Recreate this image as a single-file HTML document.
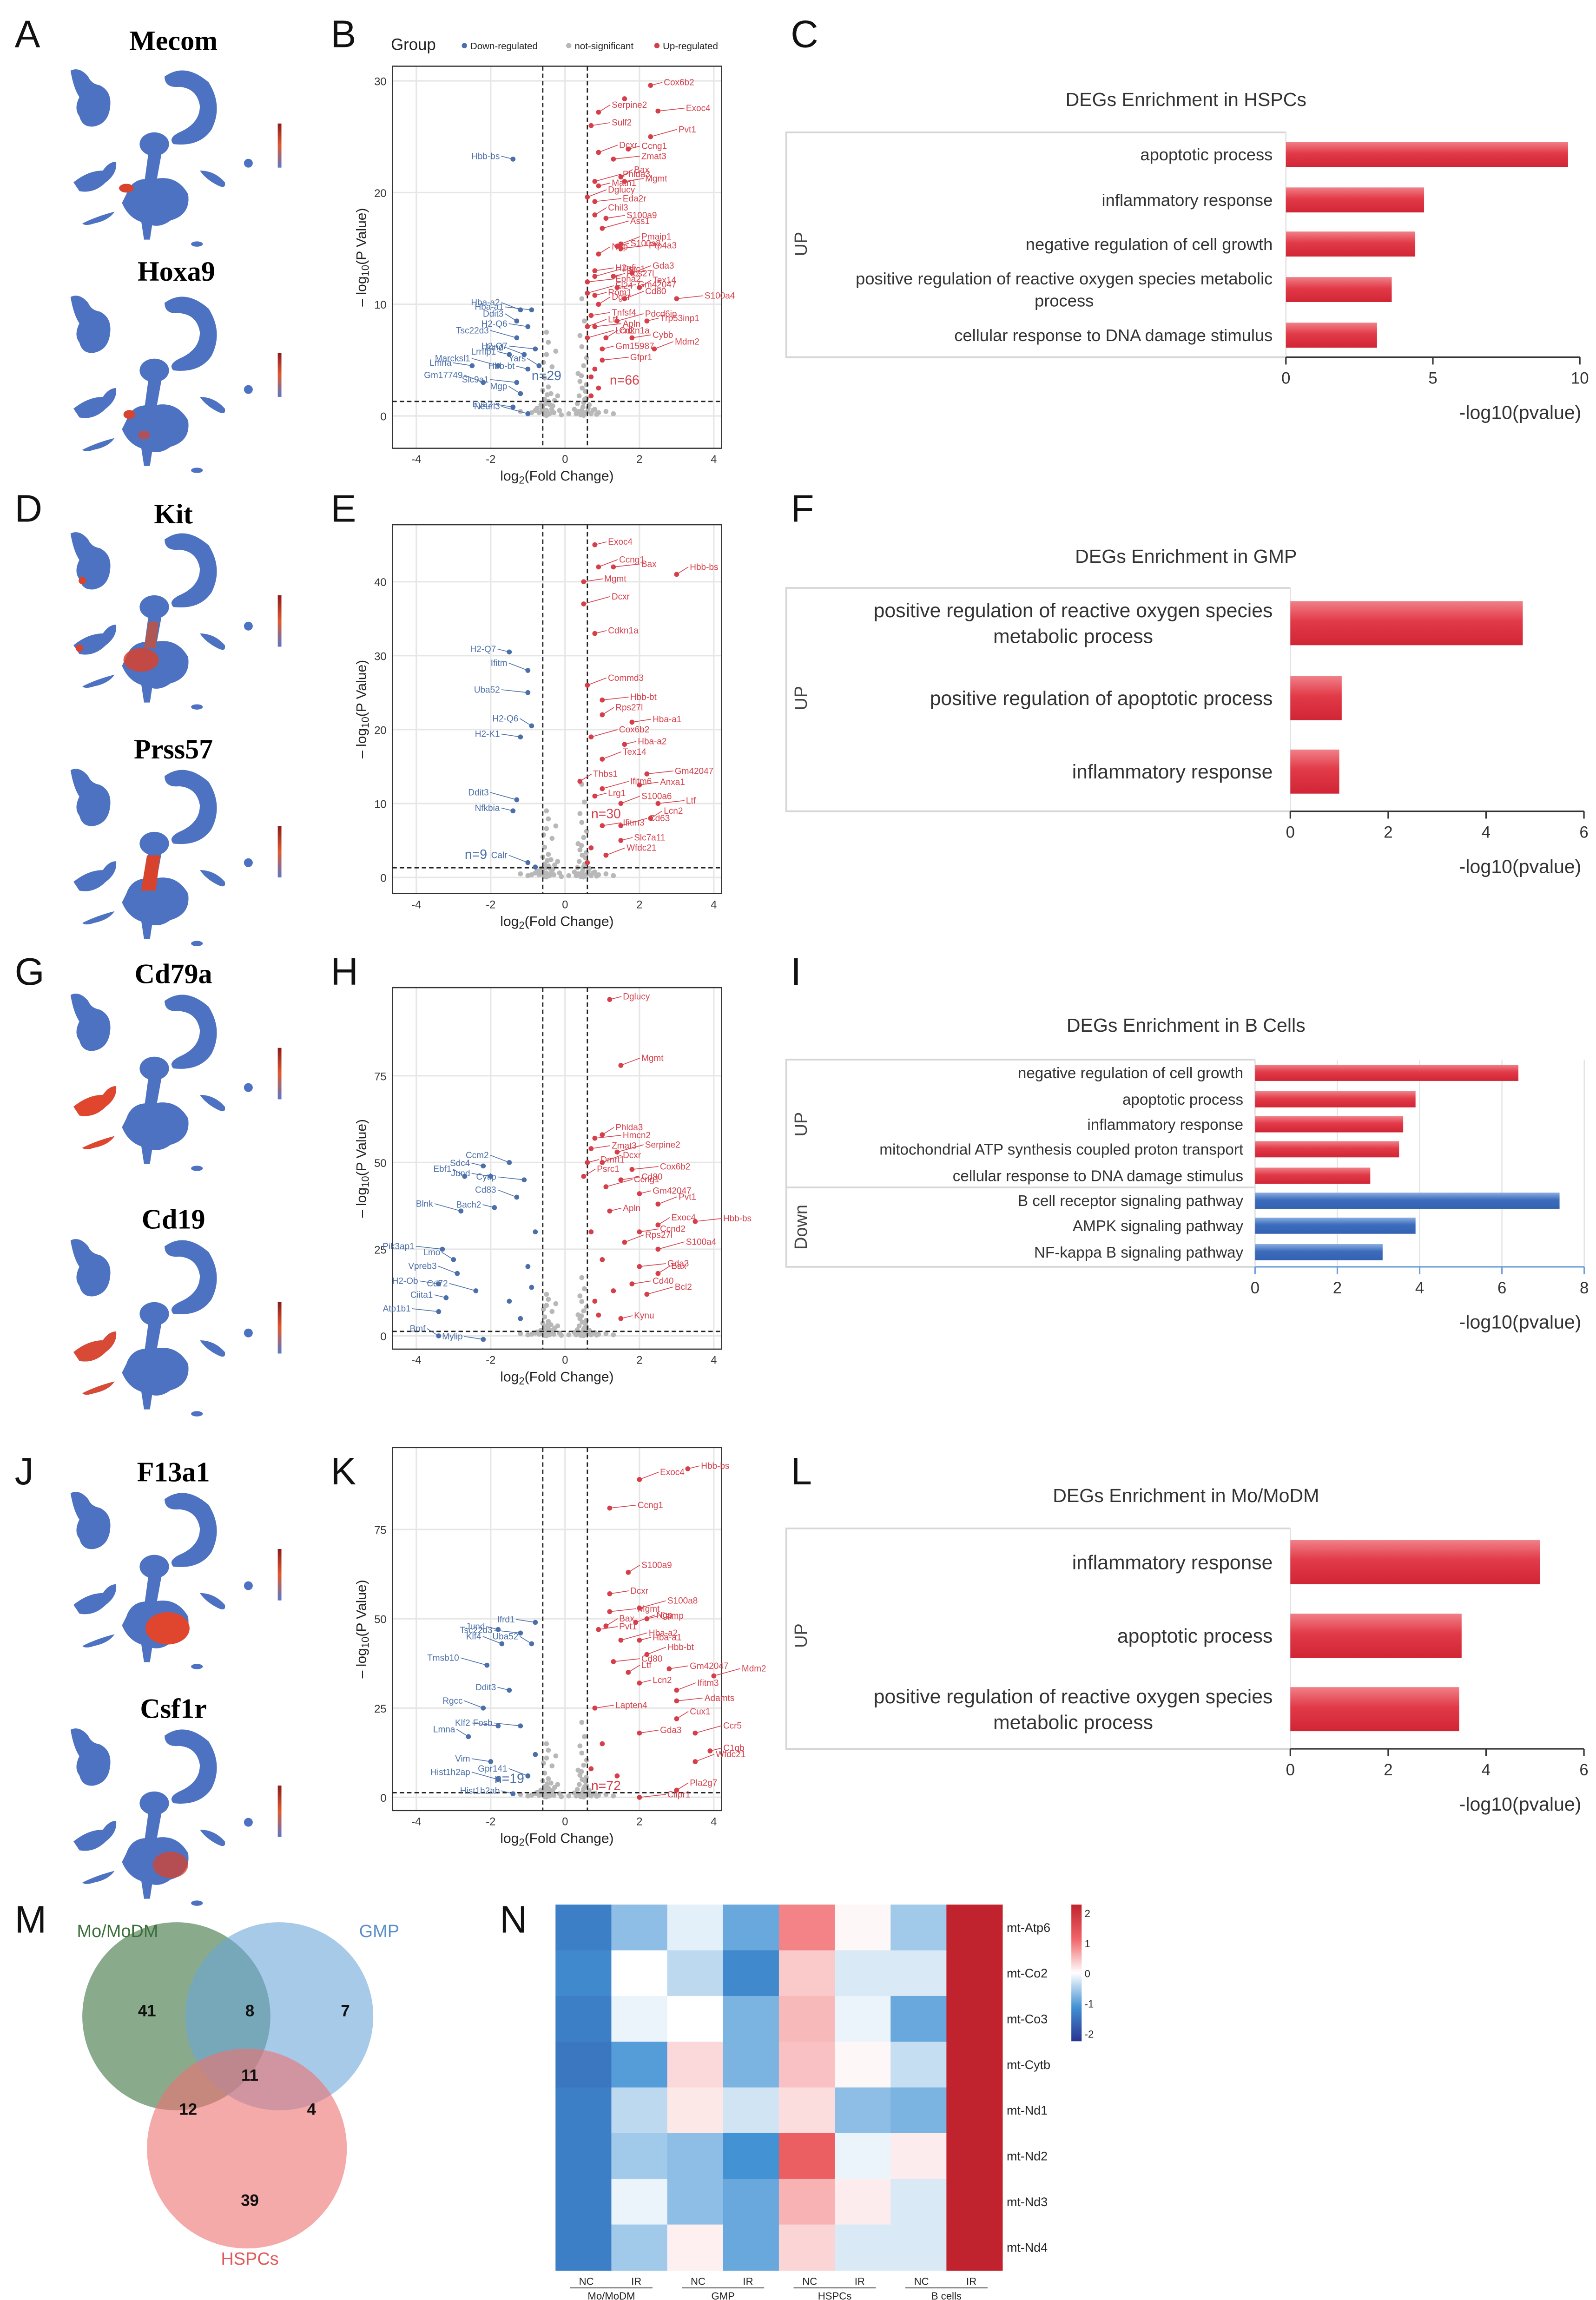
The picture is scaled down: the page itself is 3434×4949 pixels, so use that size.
<!DOCTYPE html>
<html><head><meta charset="utf-8">
<style>
html,body{margin:0;padding:0;background:#fff;}
svg{display:block;font-family:"Liberation Sans",sans-serif;}
.ser{font-family:"Liberation Serif",serif;font-weight:bold;}
</style></head>
<body>
<svg id="fig" xmlns="http://www.w3.org/2000/svg" width="3434" height="4949" viewBox="0 0 1086 1565">
<defs>
<linearGradient id="gRed" x1="0" y1="0" x2="0" y2="1"><stop offset="0" stop-color="#f08088"/><stop offset="0.45" stop-color="#e23a48"/><stop offset="1" stop-color="#d02535"/></linearGradient>
<linearGradient id="gBlue" x1="0" y1="0" x2="0" y2="1"><stop offset="0" stop-color="#8aaee0"/><stop offset="0.45" stop-color="#3c6cbc"/><stop offset="1" stop-color="#3462b2"/></linearGradient>
<linearGradient id="gCb" x1="0" y1="1" x2="0" y2="0"><stop offset="0" stop-color="#5a78c8"/><stop offset="0.5" stop-color="#e05a30"/><stop offset="1" stop-color="#8b1a1a"/></linearGradient>
<linearGradient id="gHm" x1="0" y1="1" x2="0" y2="0"><stop offset="0" stop-color="#2a3492"/><stop offset="0.25" stop-color="#4292d4"/><stop offset="0.5" stop-color="#ffffff"/><stop offset="0.75" stop-color="#f06468"/><stop offset="1" stop-color="#c0232d"/></linearGradient>
<g id="umap" fill="#4d72c2">
<path d="M2,2 Q8,-1 14,6 Q16,11 22,12 Q30,16 29,26 Q28,38 18,40 Q10,41 8,33 Q4,28 8,20 Q4,14 2,2Z"/>
<path d="M66,6 Q80,-4 96,10 Q106,26 98,42 Q90,54 72,52 Q68,48 76,44 Q90,38 90,26 Q88,14 76,13 Q66,14 66,6Z"/>
<ellipse cx="59" cy="52" rx="10" ry="8"/>
<path d="M55,58 L64,58 L60,80 L52,80Z"/>
<path d="M40,86 Q44,74 58,76 Q74,72 82,86 Q84,100 70,104 Q62,110 54,106 Q42,104 37,92Z"/>
<path d="M50,104 L58,104 L56,117 L52,117Z"/>
<path d="M4,78 Q14,70 24,70 Q28,64 33,64 Q34,72 26,78 Q18,86 8,84Z"/>
<circle cx="123" cy="65" r="3"/>
<path d="M90,70 Q100,70 107,78 Q108,83 102,80 Q94,76 90,70Z"/>
<path d="M10,106 Q20,101 32,98 Q28,104 18,106 Q12,108 10,106Z"/>
<ellipse cx="88" cy="120" rx="4" ry="1.8"/>
</g>
</defs>
<rect width="1086" height="1565" fill="#fff"/>

<g font-size="26" fill="#111">
<text x="10" y="32">A</text>
<text x="225" y="32">B</text>
<text x="538" y="32">C</text>
<text x="10" y="355">D</text>
<text x="225" y="355">E</text>
<text x="538" y="355">F</text>
<text x="10" y="670">G</text>
<text x="225" y="670">H</text>
<text x="538" y="670">I</text>
<text x="10" y="1010">J</text>
<text x="225" y="1010">K</text>
<text x="538" y="1010">L</text>
<text x="10" y="1315">M</text>
<text x="340" y="1315">N</text>
</g>

<g class="ser" font-size="19" text-anchor="middle" fill="#000">
<text x="118" y="34">Mecom</text>
<text x="120" y="191">Hoxa9</text>
<text x="118" y="356">Kit</text>
<text x="118" y="516">Prss57</text>
<text x="118" y="669">Cd79a</text>
<text x="118" y="836">Cd19</text>
<text x="118" y="1008">F13a1</text>
<text x="118" y="1169">Csf1r</text>
</g>

<g transform="translate(46,46)"><use href="#umap"/><ellipse cx="40" cy="82" rx="5" ry="3" fill="#d8432e"/><rect x="143" y="38" width="2.5" height="30" fill="url(#gCb)"/></g>
<g transform="translate(46,200)"><use href="#umap"/><ellipse cx="42" cy="82" rx="4" ry="3" fill="#d8432e"/><ellipse cx="52" cy="96" rx="4" ry="3" fill="#d8432e" opacity="0.7"/><rect x="143" y="40" width="2.5" height="30" fill="url(#gCb)"/></g>
<g transform="translate(46,361)"><use href="#umap"/><path d="M55,62 L62,62 L60,80 L52,80Z" fill="#c8503a" opacity="0.8"/><ellipse cx="50" cy="88" rx="12" ry="8" fill="#d8432e" opacity="0.85"/><circle cx="10" cy="34" r="2.5" fill="#d8432e"/><circle cx="8" cy="80" r="2.5" fill="#d8432e"/><rect x="143" y="44" width="2.5" height="35" fill="url(#gCb)"/></g>
<g transform="translate(46,522)"><use href="#umap"/><path d="M54,60 L63,60 L60,84 L50,84Z" fill="#d8432e"/><rect x="143" y="40" width="2.5" height="35" fill="url(#gCb)"/></g>
<g transform="translate(46,675)"><use href="#umap"/><path d="M4,78 Q14,70 24,70 Q28,64 33,64 Q34,72 26,78 Q18,86 8,84Z" fill="#e0452e"/><path d="M10,106 Q20,101 32,98 Q28,104 18,106 Q12,108 10,106Z" fill="#e0452e"/><rect x="143" y="38" width="2.5" height="35" fill="url(#gCb)"/></g>
<g transform="translate(46,842)"><use href="#umap"/><path d="M4,78 Q14,70 24,70 Q28,64 33,64 Q34,72 26,78 Q18,86 8,84Z" fill="#d84a36"/><path d="M10,106 Q20,101 32,98 Q28,104 18,106 Q12,108 10,106Z" fill="#d84a36"/><rect x="143" y="44" width="2.5" height="35" fill="url(#gCb)"/></g>
<g transform="translate(46,1014)"><use href="#umap"/><ellipse cx="68" cy="94" rx="15" ry="11" fill="#e0452e"/><rect x="143" y="40" width="2.5" height="35" fill="url(#gCb)"/></g>
<g transform="translate(46,1175)"><use href="#umap"/><ellipse cx="70" cy="94" rx="12" ry="9" fill="#d8432e" opacity="0.75"/><rect x="143" y="40" width="2.5" height="35" fill="url(#gCb)"/></g>

<g>
<circle cx="120" cy="1372" r="64" fill="#4a7e4e" opacity="0.65"/>
<circle cx="190" cy="1372" r="64" fill="#6aa6d8" opacity="0.6"/>
<circle cx="168" cy="1462" r="68" fill="#ef7272" opacity="0.6"/>
<g font-size="11" font-weight="bold" text-anchor="middle" fill="#111">
<text x="100" y="1372">41</text>
<text x="170" y="1372">8</text>
<text x="235" y="1372">7</text>
<text x="170" y="1416">11</text>
<text x="128" y="1439">12</text>
<text x="212" y="1439">4</text>
<text x="170" y="1501">39</text>
</g>
<text x="80" y="1318" font-size="12" fill="#3c6e3c" text-anchor="middle">Mo/MoDM</text>
<text x="258" y="1318" font-size="12" fill="#5a8ec8" text-anchor="middle">GMP</text>
<text x="170" y="1541" font-size="12" fill="#e05a5a" text-anchor="middle">HSPCs</text>
</g>
<g id="dyn"></g>
</svg>
<script>
const nsPts = [[-0.5,0.5],[-0.4,1],[-0.3,0.3],[-0.2,1.8],[-0.45,2.6],[-0.55,3.4],[-0.35,4.4],[-0.5,5.5],[0.45,0.5],[0.5,1.2],[0.55,2.2],[0.4,3.1],[0.5,4.5],[0.45,6.2],[0.52,8.5],[0.3,0.2],[-0.1,0.1],[0.1,0.2],[0.6,0.4],[0.7,0.2],[0.8,0.6],[0.9,0.3],[1.1,0.4],[1.3,0.2],[-0.6,0.8],[-0.7,0.3],[-0.8,0.5],[-1,0.2],[-1.2,0.4],[-0.65,1],[0.65,1],[0.35,3.8],[-0.25,5.8],[-0.5,7.5],[0.45,10.5],[-0.55,1.5],[0.58,1.6],[-0.42,0.2],[0.25,0.6],[-0.15,0.5],
[-0.58,0.3],[-0.52,1.1],[-0.48,1.9],[-0.6,2.3],[-0.38,2.0],[-0.33,0.9],[-0.28,1.4],[-0.55,0.1],[-0.62,0.6],[-0.45,1.3],[0.42,0.1],[0.48,0.8],[0.53,1.5],[0.57,2.8],[0.38,1.8],[0.33,1.1],[0.46,2.5],[0.55,0.3],[0.62,0.7],[0.44,3.6],[0.5,0.05],[0.36,0.4],[-0.36,0.6],[-0.5,0.05],[0.75,0.5],[-0.75,0.7],[0.85,0.15],[-0.9,0.3],[0.58,5.2],[-0.58,4.8],[0.4,7.2],[-0.45,6.6]];

const upB = [[2.3,29.6,'Cox6b2'],[1.6,28.4,''],[2.5,27.3,'Exoc4'],[0.9,27.2,'Serpine2'],[0.7,26,'Sulf2'],[2.3,25,'Pvt1'],[1.7,23.9,'Ccng1'],[0.9,23.6,'Dcxr'],[1.3,23,'Zmat3'],[1.5,21.4,'Bax'],[1.6,21,'Mgmt'],[0.8,21,'Phlda3'],[0.9,20.6,'Matn1'],[0.6,19.6,'Dglucy'],[0.8,19.2,'Eda2r'],[0.8,18,'Chil3'],[1.1,17.7,'S100a9'],[1.0,16.8,'Ass1'],[1.4,15.2,'S100a8'],[1.5,15.4,'Pmaip1'],[1.5,15,'Ptp4a3'],[0.9,14.5,'Ngp'],[0.8,13,'H2afj'],[0.8,12.5,'Psrc1'],[1.3,12.5,'Rps27l'],[1.8,12.8,'Gda3'],[0.6,12,'Epha2'],[2.0,11.5,'Tex14'],[1.4,11.5,'Gm42047'],[0.6,11,'Ei24'],[0.8,10.8,'Rom1'],[1.6,10.5,'Cd80'],[3.0,10.5,'S100a4'],[0.9,10,'Dgkr'],[0.7,9,'Tnfsf4'],[1.4,8.5,'Pdcd6ip'],[2.2,8.5,'Trp53inp1'],[0.6,8,'Ltf'],[0.8,8,'Apln'],[1.1,7,'Cdkn1a'],[1.8,7,'Cybb'],[0.6,7,'Lcn2'],[1.0,6,'Gm15987'],[2.4,6,'Mdm2'],[1.0,5,'Gfpr1'],[0.7,3.5,''],[0.9,2.5,''],[0.7,1.8,''],[0.8,4.2,'']];
const downB = [[-1.4,23,'Hbb-bs'],[-1.2,9.5,'Hba-a2'],[-0.9,9.5,'Hba-a1'],[-1.3,8.5,'Ddit3'],[-1.0,8,'H2-Q6'],[-1.3,7,'Tsc22d3'],[-1.5,5.5,'Lrrfip1'],[-1.1,5.5,'Jund'],[-0.8,6,'H2-Q7'],[-0.7,4.5,'Yars'],[-2.5,4.5,'Lmna'],[-1.8,4.5,'Marcksl1'],[-1.0,4.2,'Hbb-bt'],[-2.2,3,'Gm17749'],[-1.3,3,'Slc9a1'],[-1.2,2,'Mgp'],[-1.4,0.8,'Eya2'],[-1.0,0.2,'Neurl3']];
const upE = [[0.8,45,'Exoc4'],[0.9,42,'Ccng1'],[1.3,42,'Bax'],[3.0,41,'Hbb-bs'],[0.5,40,'Mgmt'],[0.5,37,'Dcxr'],[0.8,33,'Cdkn1a'],[0.6,26,'Commd3'],[1.0,24,'Hbb-bt'],[1.0,22,'Rps27l'],[1.8,21,'Hba-a1'],[0.7,19,'Cox6b2'],[1.6,18,'Hba-a2'],[1.0,16,'Tex14'],[2.2,14,'Gm42047'],[0.4,13,'Thbs1'],[2.0,12.5,'Anxa1'],[1.0,12,'Ifitm6'],[0.8,11,'Lrg1'],[1.5,10,'S100a6'],[2.5,10,'Ltf'],[2.3,8,'Lcn2'],[1.0,7,'Ifitm3'],[1.5,7,'Cd63'],[1.5,5,'Slc7a11'],[1.1,3,'Wfdc21'],[0.7,4,''],[0.6,2,'']];
const downE = [[-1.5,30.5,'H2-Q7'],[-1.0,28,'Ifitm'],[-1.0,25,'Uba52'],[-0.9,20.5,'H2-Q6'],[-1.2,19,'H2-K1'],[-1.3,10.5,'Ddit3'],[-1.4,9,'Nfkbia'],[-1.0,2,'Calr'],[-0.8,1.4,'']];
const upH = [[1.2,97,'Dglucy'],[1.5,78,'Mgmt'],[0.8,57,'Hmcn2'],[1.0,58,'Phlda3'],[0.7,54,'Zmat3'],[1.4,53,'Serpine2'],[0.6,50,'Dmrt1'],[1.0,50,'Dcxr'],[1.8,48,'Cox6b2'],[0.5,46,'Psrc1'],[1.5,45,'Cd80'],[1.1,43,'Ccng1'],[2.0,41,'Gm42047'],[2.5,38,'Pvt1'],[3.5,33,'Hbb-bs'],[2.5,32,'Exoc4'],[2.0,30,'Ccnd2'],[2.5,25,'S100a4'],[1.2,36,'Apln'],[1.6,27,'Rps27l'],[2.0,20,'Gda3'],[2.5,18,'Bax'],[1.8,15,'Cd40'],[2.2,12,'Bcl2'],[1.5,5,'Kynu'],[0.8,10,''],[1.0,22,''],[0.7,30,''],[0.9,6,''],[1.3,13,'']];
const downH = [[-2.2,49,'Sdc4'],[-1.5,50,'Ccm2'],[-1.1,45,'Cytip'],[-2.7,46,'Ebf1'],[-2.0,46,'Jund'],[-2.8,36,'Blnk'],[-1.9,37,'Bach2'],[-1.3,40,'Cd83'],[-3.3,25,'Pik3ap1'],[-3.0,22,'Lmo'],[-3.4,15,'H2-Ob'],[-2.4,13,'Cd72'],[-3.2,11,'Ciita1'],[-2.9,18,'Vpreb3'],[-3.4,7,'Atp1b1'],[-3.4,0,'Bmf'],[-2.2,-1,'Mylip'],[-1.5,10,''],[-1.0,20,''],[-0.8,30,''],[-1.2,5,''],[-0.9,14,'']];
const upK = [[3.3,92,'Hbb-bs'],[2.0,89,'Exoc4'],[1.2,81,'Ccng1'],[1.7,63,'S100a9'],[1.2,57,'Dcxr'],[2.0,53,'S100a8'],[2.2,50,'Camp'],[1.9,49,'Ngp'],[1.2,52,'Mgmt'],[1.1,48,'Bax'],[0.9,47,'Pvt1'],[1.5,44,'Hba-a2'],[2.0,44,'Hba-a1'],[2.2,40,'Hbb-bt'],[1.3,38,'Cd80'],[1.7,35,'Ltf'],[2.8,36,'Gm42047'],[4.0,34,'Mdm2'],[2.0,32,'Lcn2'],[3.0,30,'Ifitm3'],[3.0,27,'Adamts'],[3.0,22,'Cux1'],[2.0,18,'Gda3'],[3.5,18,'Ccr5'],[3.9,13,'C1qb'],[3.5,10,'Wfdc21'],[2.0,0,'Clipr1'],[3.0,2,'Pla2g7'],[0.8,25,'Lapten4'],[1.0,15,''],[0.7,8,''],[1.4,6,'']];
const downK = [[-1.8,47,'Jund'],[-1.7,43,'Klf4'],[-1.2,46,'Tsc22d3'],[-0.9,43,'Uba52'],[-0.8,49,'Ifrd1'],[-2.1,37,'Tmsb10'],[-1.5,30,'Ddit3'],[-2.2,25,'Rgcc'],[-1.8,20,'Klf2'],[-2.6,17,'Lmna'],[-2.0,10,'Vim'],[-1.8,5,'Hist1h2ap'],[-1.4,1,'Hist1h2ab'],[-1.0,6,'Gpr141'],[-1.2,20,'Fosb'],[-0.8,12,'']];

const termsC = ['apoptotic process','inflammatory response','negative regulation of cell growth','positive regulation of reactive oxygen species metabolic\nprocess','cellular response to DNA damage stimulus'];
const valsC = [9.6,4.7,4.4,3.6,3.1];
const termsF = ['positive regulation of reactive oxygen species\nmetabolic process','positive regulation of apoptotic process','inflammatory response'];
const valsF = [4.75,1.05,1.0];
const termsI = ['negative regulation of cell growth','apoptotic process','inflammatory response','mitochondrial ATP synthesis coupled proton transport','cellular response to DNA damage stimulus','B cell receptor signaling pathway','AMPK signaling pathway','NF-kappa B signaling pathway'];
const valsI = [6.4,3.9,3.6,3.5,2.8,7.4,3.9,3.1];
const dirI = ['UP','UP','UP','UP','UP','Down','Down','Down'];
const termsL = ['inflammatory response','apoptotic process','positive regulation of reactive oxygen species\nmetabolic process'];
const valsL = [5.1,3.5,3.45];

const hmGenes = ['mt-Atp6','mt-Co2','mt-Co3','mt-Cytb','mt-Nd1','mt-Nd2','mt-Nd3','mt-Nd4'];
const hmGroups = ['Mo/MoDM','GMP','HSPCs','B cells'];
const hmConds = ['NC','IR'];
const hmVals = [
 [-1.2,-0.6,-0.15,-0.8,0.8,0.05,-0.5,2.1],
 [-1.1,0.0,-0.35,-1.1,0.35,-0.2,-0.2,2.1],
 [-1.2,-0.1,0.0,-0.7,0.45,-0.1,-0.8,2.1],
 [-1.3,-0.9,0.25,-0.7,0.4,0.05,-0.3,2.1],
 [-1.2,-0.35,0.15,-0.25,0.22,-0.6,-0.7,2.1],
 [-1.2,-0.5,-0.6,-1.0,1.1,-0.1,0.12,2.3],
 [-1.2,-0.1,-0.6,-0.8,0.5,0.12,-0.2,2.1],
 [-1.2,-0.5,0.1,-0.8,0.28,-0.2,-0.2,2.1]];

const NS='http://www.w3.org/2000/svg';
const root=document.getElementById('dyn');
function mk(tag,attrs,parent){const e=document.createElementNS(NS,tag);for(const k in attrs)e.setAttribute(k,attrs[k]);(parent||root).appendChild(e);return e;}
const RED='#d63f4a', BLUE='#4b6fa8', GRAY='#b8b8b8';

function volcano(cfg){
  const g=mk('g',{});
  
  
  const xs=v=>384.5+v*25.3;
  const ys=v=>cfg.y0px-v*cfg.ppu;
  const L=267,R=491,T=cfg.top,B=cfg.bottom;
  for(const t of cfg.yticks){
    const gl=mk('line',{x1:L,x2:R,y1:ys(t),y2:ys(t),stroke:'#e6e6e6','stroke-width':1},g);
    
    
    const tl=mk('text',{x:L-4,y:ys(t)+3,'font-size':7.5,'text-anchor':'end',fill:'#333'},g);
    
    
    tl.textContent=t;
  }
  for(const t of [-4,-2,0,2,4]){
    const gl=mk('line',{x1:xs(t),x2:xs(t),y1:T,y2:B,stroke:'#e6e6e6','stroke-width':1},g);
    
    
    const tl=mk('text',{x:xs(t),y:B+10,'font-size':7.5,'text-anchor':'middle',fill:'#333'},g);
    
    
    tl.textContent=t;
  }
  const box=mk('rect',{x:L,y:T,width:R-L,height:B-T,fill:'none',stroke:'#333','stroke-width':0.8},g);
  
  
  for(const p of nsPts){
    const c=mk('circle',{cx:xs(p[0]),cy:ys(p[1]*cfg.nsScale),r:1.7,fill:GRAY},g);
    
    
  }
  for(const l of [-0.6,0.6]){
    const d=mk('line',{x1:xs(l),x2:xs(l),y1:T,y2:B,stroke:'#222','stroke-width':0.9,'stroke-dasharray':'3,2'},g);
    
    
  }
  const h=mk('line',{x1:L,x2:R,y1:ys(1.3),y2:ys(1.3),stroke:'#222','stroke-width':0.9,'stroke-dasharray':'3,2'},g);
  
  
  function pts(arr,col,side,nm){
    arr.forEach((p,i)=>{
      const x=xs(p[0]),y=ys(p[1]);
      if(p[2]){
        const lx=x+side*(8+(i%3)*5), ly=y-2-(i%2)*3;
        const ln=mk('line',{x1:x,y1:y,x2:lx,y2:ly,stroke:col,'stroke-width':0.5},g);
        
        
        const t=mk('text',{x:lx+side*1,y:ly+2,'font-size':6,'text-anchor':side>0?'start':'end',fill:col},g);
        
        
        t.textContent=p[2];
      }
      const c=mk('circle',{cx:x,cy:y,r:1.7,fill:col},g);
      
      
    });
  }
  pts(cfg.down,BLUE,-1,'point-down-regulated');
  pts(cfg.up,RED,1,'point-up-regulated');
  const nu=mk('text',{x:xs(cfg.nUpAt[0]),y:ys(cfg.nUpAt[1]),'font-size':9,fill:RED},g);
  
  
  nu.textContent=cfg.nUp;
  const nd=mk('text',{x:xs(cfg.nDownAt[0]),y:ys(cfg.nDownAt[1]),'font-size':9,fill:BLUE},g);
  
  
  nd.textContent=cfg.nDown;
  const xl=mk('text',{x:379,y:B+22,'font-size':9.5,'text-anchor':'middle',fill:'#222'},g);
  
  
  xl.innerHTML='log<tspan font-size="7" dy="2">2</tspan><tspan dy="-2">(Fold Change)</tspan>';
  const yl=mk('text',{x:0,y:0,'font-size':9.5,'text-anchor':'middle',fill:'#222',transform:`translate(249,${(T+B)/2}) rotate(-90)`},g);
  
  
  yl.innerHTML='– log<tspan font-size="7" dy="2">10</tspan><tspan dy="-2">(P Value)</tspan>';
}
volcano({name:'volcano-hspcs',top:45,bottom:305,y0px:283,ppu:7.6,yticks:[0,10,20,30],nsScale:1,up:upB,down:downB,nUp:'n=66',nUpAt:[1.2,2.8],nDown:'n=29',nDownAt:[-0.9,3.2]});
volcano({name:'volcano-gmp',top:357,bottom:608,y0px:597,ppu:5.03,yticks:[0,10,20,30,40],nsScale:1.2,up:upE,down:downE,nUp:'n=30',nUpAt:[0.7,8],nDown:'n=9',nDownAt:[-2.7,2.5]});
volcano({name:'volcano-b-cells',top:672,bottom:918,y0px:909,ppu:2.36,yticks:[0,25,50,75],nsScale:1.6,up:upH,down:downH,nUp:'',nUpAt:[1,1],nDown:'',nDownAt:[-1,1]});
volcano({name:'volcano-mo-modm',top:985,bottom:1232,y0px:1223,ppu:2.43,yticks:[0,25,50,75],nsScale:2,up:upK,down:downK,nUp:'n=72',nUpAt:[0.7,2],nDown:'n=19',nDownAt:[-1.9,4]});

(function(){
  const g=mk('g',{});
  
  
  const t=mk('text',{x:266,y:34,'font-size':11,fill:'#222'},g);
  
  
  t.textContent='Group';
  const items=[['Down-regulated',BLUE,316],['not-significant',GRAY,387],['Up-regulated',RED,447]];
  for(const it of items){
    const c=mk('circle',{cx:it[2],cy:31,r:1.8,fill:it[1]},g);
    
    
    const tx=mk('text',{x:it[2]+4,y:33.5,'font-size':6.5,fill:'#222'},g);
    
    
    tx.textContent=it[0];
  }
})();

function barPanel(c){
  const g=mk('g',{});
  
  
  const xs=v=>c.x0+v*c.ppu;
  const xmax=xs(c.ticks[c.ticks.length-1]);
  const tt=mk('text',{x:807,y:c.titleY,'font-size':13,'text-anchor':'middle',fill:'#333'},g);
  
  
  tt.textContent=c.title;
  if(c.grid){for(const t of c.ticks){
    const gl=mk('line',{x1:xs(t),x2:xs(t),y1:c.top,y2:c.axisY,stroke:'#e4e4e4','stroke-width':0.8},g);
    
    
  }}
  const fr=mk('path',{d:`M${c.x0},${c.top} L535,${c.top} L535,${c.axisY} L${c.x0},${c.axisY}`,fill:'none',stroke:'#d6d6d6','stroke-width':1.2},g);
  
  
  const vl=mk('line',{x1:c.x0,x2:c.x0,y1:c.top,y2:c.axisY,stroke:'#e0e0e0','stroke-width':0.8},g);
  
  
  if(c.sepY){
    const s=mk('line',{x1:535,x2:c.x0,y1:c.sepY,y2:c.sepY,stroke:'#d6d6d6','stroke-width':1.2},g);
    
    
  }
  for(const gr of c.groups){
    const t=mk('text',{x:0,y:0,'font-size':12,'text-anchor':'middle',fill:'#444',transform:`translate(549,${gr[1]}) rotate(-90)`},g);
    
    
    t.textContent=gr[0];
  }
  c.vals.forEach((v,i)=>{
    const y=c.ys[i];
    const r=mk('rect',{x:c.x0,y:y-c.h/2,width:xs(v)-c.x0,height:c.h,fill:(c.dirs&&c.dirs[i]==='Down')?'url(#gBlue)':'url(#gRed)'},g);
    
    
    const lines=c.terms[i].split('\n');
    const lh=c.fs*1.3;
    const y0=y+c.fs*0.35-(lines.length-1)*lh/2;
    const first=mk('text',{x:c.labelX,y:y0,'font-size':c.fs,'text-anchor':'end',fill:'#333'},g);
    
    
    first.textContent=lines[0];
    const w=first.getComputedTextLength();
    for(let k=1;k<lines.length;k++){
      const t=mk('text',{x:c.labelX-w/2,y:y0+k*lh,'font-size':c.fs,'text-anchor':'middle',fill:'#333'},g);
      
      
      t.textContent=lines[k];
    }
  });
  const ax=mk('line',{x1:c.x0,x2:xmax,y1:c.axisY,y2:c.axisY,stroke:c.axisCol,'stroke-width':1},g);
  
  
  for(const t of c.ticks){
    const tk=mk('line',{x1:xs(t),x2:xs(t),y1:c.axisY,y2:c.axisY+5,stroke:c.axisCol,'stroke-width':1},g);
    
    
    const tl=mk('text',{x:xs(t),y:c.axisY+18,'font-size':11,'text-anchor':'middle',fill:'#333'},g);
    
    
    tl.textContent=t;
  }
  const xl=mk('text',{x:1076,y:c.axisY+42,'font-size':13,'text-anchor':'end',fill:'#333'},g);
  
  
  xl.textContent='-log10(pvalue)';
}
barPanel({name:'enrichment-hspcs',title:'DEGs Enrichment in HSPCs',titleY:72,top:90,axisY:243,x0:875,ppu:20,ticks:[0,5,10],terms:termsC,vals:valsC,ys:[105,136,166,197,228],h:17,fs:11.5,labelX:866,groups:[['UP',166]],axisCol:'#333',grid:false});
barPanel({name:'enrichment-gmp',title:'DEGs Enrichment in GMP',titleY:383,top:400,axisY:552,x0:878,ppu:33.3,ticks:[0,2,4,6],terms:termsF,vals:valsF,ys:[424,475,525],h:30,fs:13.5,labelX:866,groups:[['UP',475]],axisCol:'#333',grid:false});
barPanel({name:'enrichment-b-cells',title:'DEGs Enrichment in B Cells',titleY:702,top:721,axisY:862,x0:854,ppu:28,ticks:[0,2,4,6,8],terms:termsI,vals:valsI,dirs:dirI,ys:[730,748,765,782,800,817,834,852],h:11,fs:10.5,labelX:846,groups:[['UP',765],['Down',835]],sepY:808,axisCol:'#6fa0d8',grid:true});
barPanel({name:'enrichment-mo-modm',title:'DEGs Enrichment in Mo/MoDM',titleY:1022,top:1040,axisY:1190,x0:878,ppu:33.3,ticks:[0,2,4,6],terms:termsL,vals:valsL,ys:[1063,1113,1163],h:30,fs:13.5,labelX:866,groups:[['UP',1113]],axisCol:'#333',grid:false});

(function(){
  const g=mk('g',{});
  
  
  const X0=378,Y0=1296,CW=38,RH=31.1;
  const stops=[[-2,[42,52,146]],[-1,[66,146,212]],[0,[255,255,255]],[1,[240,100,104]],[2,[192,35,45]]];
  function col(v){v=Math.max(-2,Math.min(2,v));for(let i=0;i<4;i++){const a=stops[i],b=stops[i+1];if(v<=b[0]){const f=(v-a[0]);return 'rgb('+a[1].map((q,k)=>Math.round(q+(b[1][k]-q)*f)).join(',')+')';}}return 'rgb(192,35,45)';}
  hmVals.forEach((row,r)=>{
    row.forEach((v,ci)=>{
      const rc=mk('rect',{x:X0+ci*CW,y:Y0+r*RH,width:CW+0.3,height:RH+0.3,fill:col(v)},g);
      
      
    });
    const t=mk('text',{x:X0+8*CW+3,y:Y0+r*RH+RH/2+3,'font-size':8.5,fill:'#222'},g);
    
    
    t.textContent=hmGenes[r];
  });
  hmGroups.forEach((gn,gi)=>{
    hmConds.forEach((cn,k)=>{
      const t=mk('text',{x:X0+(gi*2+k)*CW+CW/2+(k?-2:2),y:Y0+8*RH+10,'font-size':7,'text-anchor':'middle',fill:'#222'},g);
      
      
      t.textContent=cn;
    });
    const u=mk('line',{x1:X0+gi*2*CW+10,x2:X0+(gi*2+2)*CW-10,y1:Y0+8*RH+12,y2:Y0+8*RH+12,stroke:'#555','stroke-width':0.6},g);
    
    
    const t2=mk('text',{x:X0+(gi*2+1)*CW,y:Y0+8*RH+20,'font-size':7,'text-anchor':'middle',fill:'#222'},g);
    
    
    t2.textContent=gn;
  });
  const cb=mk('rect',{x:729,y:1296,width:7,height:93,fill:'url(#gHm)'},g);
  
  
  [2,1,0,-1,-2].forEach(v=>{
    const t=mk('text',{x:738,y:1342.5-v*20.5+3,'font-size':7,fill:'#222'},g);
    
    
    t.textContent=v;
  });
})();
</script>
</body></html>
